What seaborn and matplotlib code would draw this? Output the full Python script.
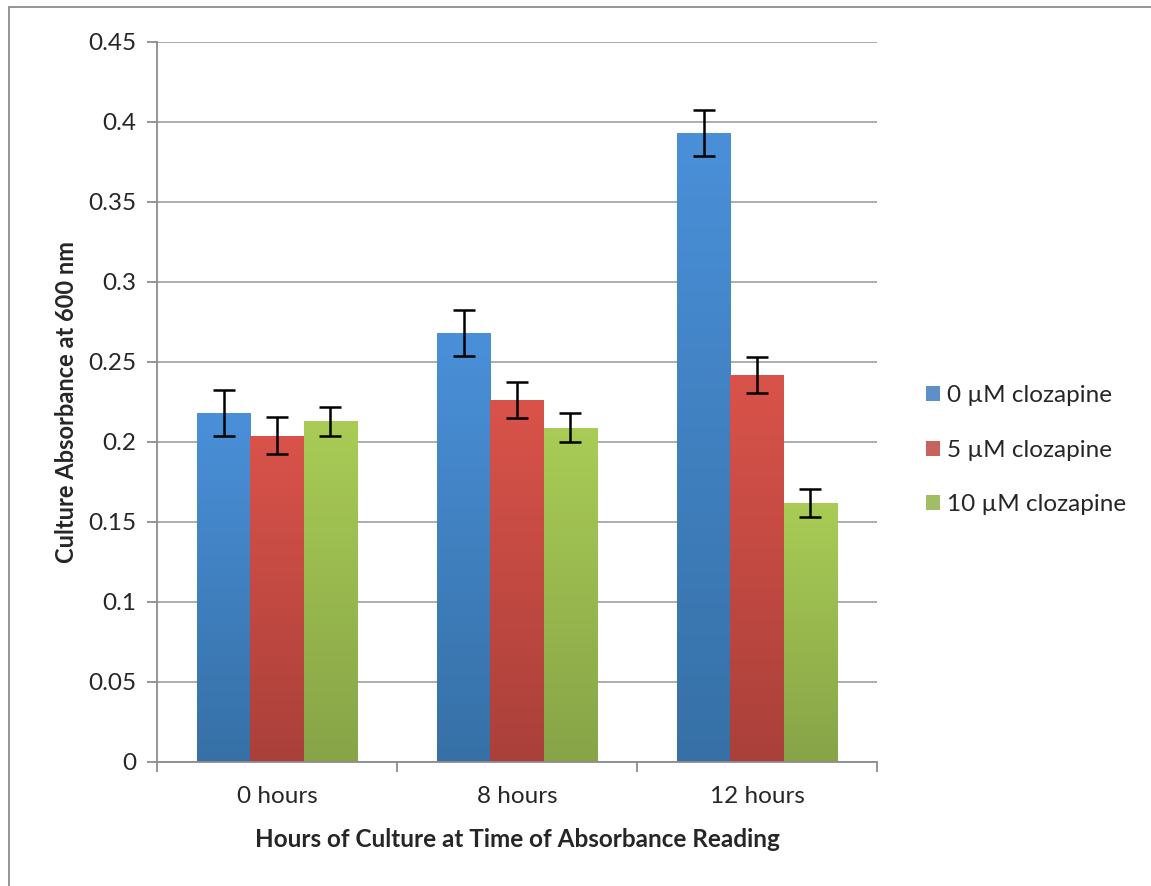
import numpy as np
import pandas as pd
import seaborn as sns
import matplotlib.pyplot as plt
from matplotlib.colors import LinearSegmentedColormap
from matplotlib.patches import Rectangle

# values
hours = ['0 hours', '8 hours', '12 hours']
treatments = ['0 µM clozapine', '5 µM clozapine', '10 µM clozapine']
absorbance_0uM = [0.218, 0.268, 0.393]
absorbance_5uM = [0.204, 0.226, 0.242]
absorbance_10uM = [0.213, 0.209, 0.162]
err_0uM = [0.0145, 0.0143, 0.0144]
err_5uM = [0.0115, 0.0113, 0.0112]
err_10uM = [0.009, 0.0089, 0.0089]

top_colors = ['#4a90d9', '#d9534a', '#a9cc56']
bottom_colors = ['#3670a6', '#aa403a', '#87a447']

df = pd.DataFrame({
    'hours': hours * 3,
    'treatment': [t for t in treatments for _ in hours],
    'absorbance': absorbance_0uM + absorbance_5uM + absorbance_10uM,
    'err': err_0uM + err_5uM + err_10uM,
})

sns.set_style('white')
plt.rcParams['font.family'] = ['Lato', 'DejaVu Sans']

fig = plt.figure(figsize=(11.51, 8.86), dpi=100)
ax = fig.add_axes([157 / 1151, 1 - 762 / 886, 720 / 1151, 720 / 886])

sns.barplot(data=df, x='hours', y='absorbance', hue='treatment', order=hours,
            hue_order=treatments, palette=top_colors, width=0.667, gap=0,
            errorbar=None, linewidth=0, ax=ax, zorder=2)

# gradient fill + error bars on each bar
grad = np.linspace(0, 1, 256).reshape(-1, 1)
bar_containers = list(ax.containers)
for i, cont in enumerate(bar_containers):
    cmap = LinearSegmentedColormap.from_list('g', [bottom_colors[i], top_colors[i]])
    sub = df[df['treatment'] == treatments[i]].set_index('hours').loc[hours]
    for bar, val, e in zip(cont.patches, sub['absorbance'], sub['err']):
        x0, w, h = bar.get_x(), bar.get_width(), bar.get_height()
        im = ax.imshow(grad, cmap=cmap, origin='lower', aspect='auto',
                       extent=[x0, x0 + w, 0, h], zorder=2.5)
        im.set_clip_path(bar)
        ax.errorbar(x0 + w / 2, val, yerr=e, fmt='none', ecolor='black',
                    elinewidth=1.8, capsize=8, capthick=1.8, zorder=4)

ax.set_xlim(-0.5, 2.5)
ax.set_ylim(0, 0.45)
ax.set_yticks(np.arange(0, 0.451, 0.05))
ax.set_yticklabels(['0', '0.05', '0.1', '0.15', '0.2', '0.25', '0.3', '0.35', '0.4', '0.45'])
ax.yaxis.grid(True, color='#a6a6a6', linewidth=1.3, zorder=0)
ax.set_axisbelow(True)
for s in ['top', 'right']:
    ax.spines[s].set_visible(False)
ax.spines['left'].set_color('#8c8c8c')
ax.spines['bottom'].set_color('#8c8c8c')
ax.spines['left'].set_linewidth(1.3)
ax.spines['bottom'].set_linewidth(1.3)
ax.tick_params(axis='y', which='major', left=True, length=7, width=1.3,
               color='#8c8c8c', labelsize=17.5, pad=8)
ax.tick_params(axis='x', which='major', bottom=False, labelsize=17.5, pad=14)
ax.set_xticks([-0.5, 0.5, 1.5, 2.5], minor=True)
ax.tick_params(axis='x', which='minor', bottom=True, length=7, width=1.3,
               color='#8c8c8c')

ax.set_xlabel('Hours of Culture at Time of Absorbance Reading',
              fontsize=17.5, fontweight='bold', labelpad=15)
ax.set_ylabel('Culture Absorbance at 600 nm', fontsize=17,
              fontweight='bold', labelpad=7)

ax.legend(loc='center left', bbox_to_anchor=(1.037, 0.433), frameon=False,
          fontsize=17.5, handlelength=0.58, handleheight=0.58,
          handletextpad=0.3, labelspacing=1.38)

# outer chart border
fig.patches.append(Rectangle((9 / 1151, -0.01), 1.02, 1 - 7 / 886 + 0.01,
                             transform=fig.transFigure, fill=False,
                             edgecolor='#8c8c8c', linewidth=1.3))

fig.savefig('out.png', dpi=100)
